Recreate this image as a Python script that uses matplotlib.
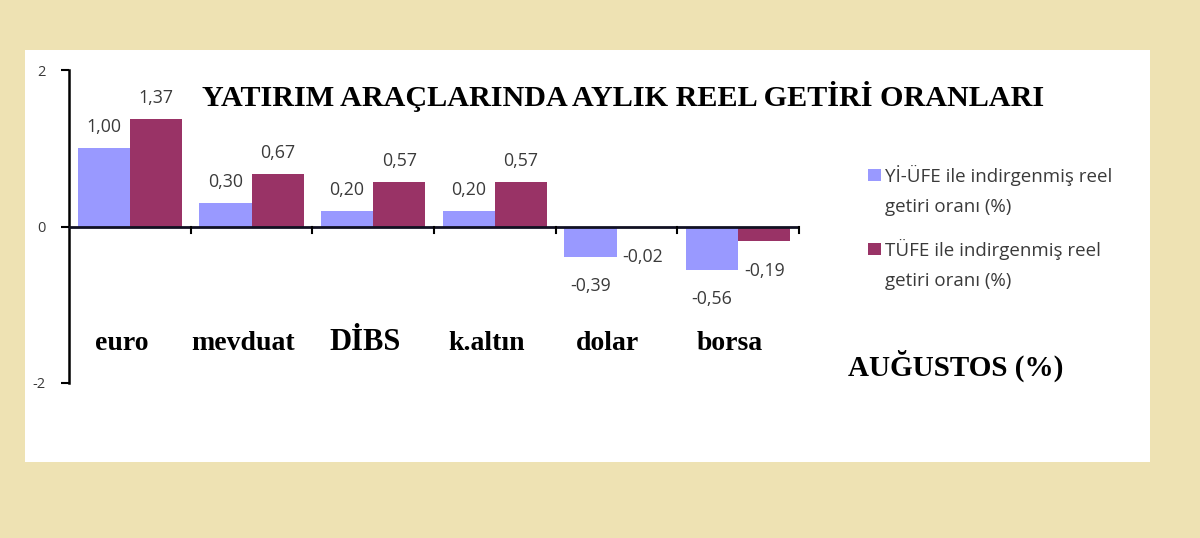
import matplotlib
matplotlib.use("Agg")
import matplotlib.pyplot as plt
from matplotlib.patches import Rectangle
from matplotlib.transforms import blended_transform_factory
import numpy as np

# ---- data ----
categories = ["euro", "mevduat", "DİBS", "k.altın", "dolar", "borsa"]
yi_ufe = [1.00, 0.30, 0.20, 0.20, -0.39, -0.56]
tufe = [1.37, 0.67, 0.57, 0.57, -0.02, -0.19]
series_names = ["Yİ-ÜFE ile indirgenmiş reel\ngetiri oranı (%)",
                "TÜFE ile indirgenmiş reel\ngetiri oranı (%)"]
title = "YATIRIM ARAÇLARINDA AYLIK REEL GETİRİ ORANLARI"
subtitle = "AUĞUSTOS (%)"
yticks = [-2, 0, 2]
ytick_labels = ["-2", "0", "2"]

# ---- style ----
W, H = 1200, 538
BG = "#EEE2B3"
BLUE = "#9999FF"
MAROON = "#993366"
SERIF = "Liberation Serif"
SANS = "Open Sans"
TXT = "#3a3a3a"

fig = plt.figure(figsize=(W / 100, H / 100), dpi=100, facecolor=BG)

def fx(x):
    return x / W

def fy(y):
    return 1 - y / H

# white panel as background axes
bg = fig.add_axes([fx(25), fy(462), fx(1150) - fx(25), fy(50) - fy(462)], zorder=0)
bg.set_facecolor("white")
bg.set_xticks([]); bg.set_yticks([])
for s in bg.spines.values():
    s.set_visible(False)

ax = fig.add_axes([fx(69), fy(383), fx(799) - fx(69), fy(70) - fy(383)], zorder=2)
ax.set_facecolor("none")

x = np.arange(len(categories))
bw = 0.43
b1 = ax.bar(x - bw / 2, yi_ufe, width=bw, color=BLUE, zorder=2)
b2 = ax.bar(x + bw / 2, tufe, width=bw, color=MAROON, zorder=2)

ax.set_xlim(-0.5, len(categories) - 0.5)
ax.set_ylim(-2, 2)

for s in ["top", "right", "bottom"]:
    ax.spines[s].set_visible(False)
ax.spines["left"].set_linewidth(1.8)
ax.spines["left"].set_color("black")
ax.axhline(0, color="#111122", lw=2.0, zorder=3)

# y ticks
ax.set_yticks(yticks)
ax.set_yticklabels(ytick_labels, fontfamily=SANS, fontsize=10.5, color=TXT)
ax.tick_params(axis="y", direction="out", length=6, width=1.5, pad=11)

# x ticks: boundaries as tick marks drawn at y=0
ax.set_xticks([])
for b in np.arange(0.5, len(categories), 1.0):
    ax.plot([b, b], [0, -0.08], color="black", lw=1.5, zorder=3, clip_on=False)

# data labels
def fmt(v):
    return f"{v:.2f}".replace(".", ",")

for bars, vals in [(b1, yi_ufe), (b2, tufe)]:
    for r, v in zip(bars, vals):
        cx = r.get_x() + r.get_width() / 2
        off = 15 if v >= 0 else -21
        ax.annotate(fmt(v), (cx, v), xytext=(0, off), textcoords="offset points",
                    ha="center", va="center", fontfamily=SANS, fontsize=12.8, color=TXT)

# category labels
tr = blended_transform_factory(ax.transData, ax.transAxes)
for i, c in enumerate(categories):
    size = 22 if c == "DİBS" else 20
    ax.text(i - 0.07, 0.105, c, transform=tr, ha="center", va="baseline",
            fontfamily=SERIF, fontweight="bold", fontsize=size, color="black")

# title
fig.text(fx(623), fy(97), title, ha="center", va="center", fontfamily=SERIF,
         fontweight="bold", fontsize=21.7, color="black")
# subtitle
fig.text(fx(956), fy(366), subtitle, ha="center", va="center", fontfamily=SERIF,
         fontweight="bold", fontsize=21, color="black")

# legend (manual)
colors = [BLUE, MAROON]
tops = [169, 243]
for name, col, t in zip(series_names, colors, tops):
    fig.patches.append(Rectangle((fx(868), fy(t + 12)), fx(13), fy(0) - fy(12),
                                 transform=fig.transFigure, facecolor=col,
                                 edgecolor="none", zorder=3))
    lines = name.split("\n")
    for k, ln in enumerate(lines):
        fig.text(fx(885), fy(t + 13 + 30 * k), ln, ha="left", va="baseline",
                 fontfamily=SANS, fontsize=13.5, color=TXT, zorder=3)

fig.savefig("out.png", dpi=100, facecolor=BG)
